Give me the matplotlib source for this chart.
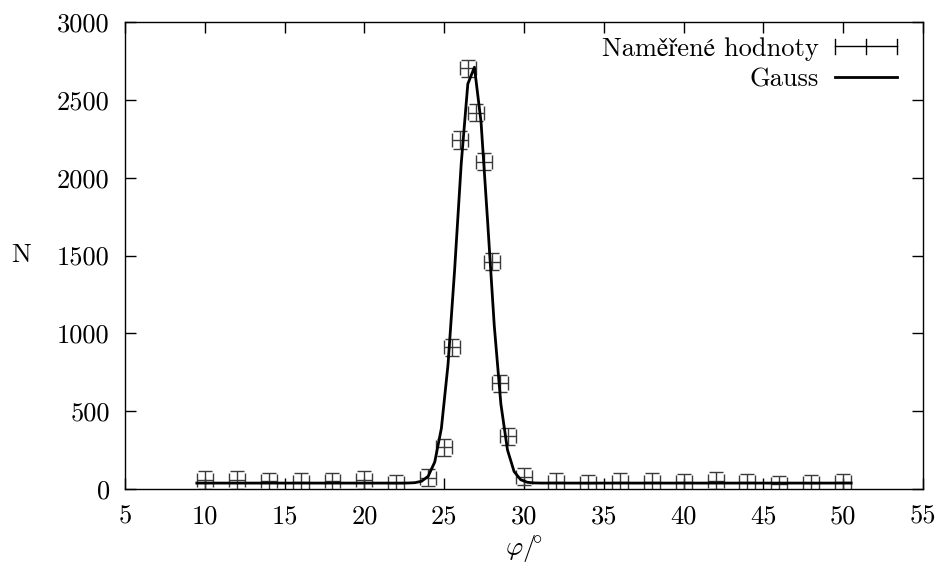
import numpy as np
import matplotlib
matplotlib.use("Agg")
import matplotlib.pyplot as plt
from matplotlib.lines import Line2D
from matplotlib.legend_handler import HandlerBase

plt.rcParams['font.family'] = ['cmr10', 'STIXGeneral', 'DejaVu Serif']
plt.rcParams['mathtext.fontset'] = 'cm'
plt.rcParams['axes.unicode_minus'] = False

# measured data
phi = [10, 12, 14, 16, 18, 20, 22, 24, 25, 25.5, 26, 26.5, 27, 27.5, 28, 28.5,
       29, 30, 32, 34, 36, 38, 40, 42, 44, 46, 48, 50]
counts = [58, 58, 50, 48, 50, 58, 36, 72, 268, 910, 2242, 2702, 2418, 2103,
          1460, 679, 340, 79, 45, 38, 45, 45, 42, 52, 42, 30, 38, 42]
phi_err = 0.5
counts_err = 55

# Gauss fit parameters
g_amp = 2690
g_mu = 26.78
g_sigma = 0.97
g_offset = 38
g_range = (9.5, 50.5)
g_samples = 100

xticks = [5, 10, 15, 20, 25, 30, 35, 40, 45, 50, 55]
yticks = [0, 500, 1000, 1500, 2000, 2500, 3000]

label_data = "Naměřené hodnoty"
label_fit = "Gauss"

FS = 19
ERRC = '#3a3a3a'

fig = plt.figure(figsize=(9.43, 5.69), dpi=100)
ax = fig.add_axes([125/943, 1-489/569, (923-125)/943, (489-22)/569])

ax.errorbar(phi, counts, xerr=phi_err, yerr=counts_err, fmt='none',
            ecolor=ERRC, elinewidth=1.0, capsize=5, capthick=1.0, zorder=2)

xs = np.linspace(g_range[0], g_range[1], g_samples)
ys = g_offset + g_amp * np.exp(-(xs - g_mu) ** 2 / (2 * g_sigma ** 2))
ax.plot(xs, ys, color='black', lw=2.0, zorder=3)

ax.set_xlim(5, 55)
ax.set_ylim(0, 3000)
ax.set_xticks(xticks)
ax.set_yticks(yticks)
ax.tick_params(direction='in', length=8, width=1.0, top=True, right=True,
               labelsize=FS)
ax.tick_params(axis='x', pad=11)
ax.tick_params(axis='y', pad=11)
for s in ax.spines.values():
    s.set_linewidth(1.0)

ax.set_xlabel(r'$\varphi/\!^{\circ}$', fontsize=FS)
ax.xaxis.set_label_coords(0.5, (489-548)/467)
ax.xaxis.label.set_va('center')
ax.set_ylabel('N', fontsize=FS, rotation=0, va='center', ha='center')
ax.yaxis.set_label_coords((21-125)/798, 0.5)


class ErrHandler(HandlerBase):
    def create_artists(self, legend, orig_handle, xdescent, ydescent,
                       width, height, fontsize, trans):
        y = (height - ydescent) / 2.0
        x0, x1 = -xdescent, width - xdescent
        xm = (x0 + x1) / 2.0
        c = 0.27 * fontsize
        segs = [([x0, x1], [y, y]), ([x0, x0], [y - c, y + c]),
                ([x1, x1], [y - c, y + c]), ([xm, xm], [y - c, y + c])]
        arts = []
        for xx, yy in segs:
            l = Line2D(xx, yy, color='black', lw=1.0)
            l.set_transform(trans)
            arts.append(l)
        return arts


h_data = object()
h_fit = Line2D([], [], color='black', lw=2.0)
leg = ax.legend([h_data, h_fit], [label_data, label_fit],
                handler_map={h_data: ErrHandler()},
                loc='upper right', bbox_to_anchor=((897-125)/798, (489-37)/467),
                frameon=False, markerfirst=False, fontsize=FS,
                handlelength=2.35, handletextpad=0.6, labelspacing=0.25,
                borderpad=0, borderaxespad=0)

fig.savefig('out.png', dpi=100)
